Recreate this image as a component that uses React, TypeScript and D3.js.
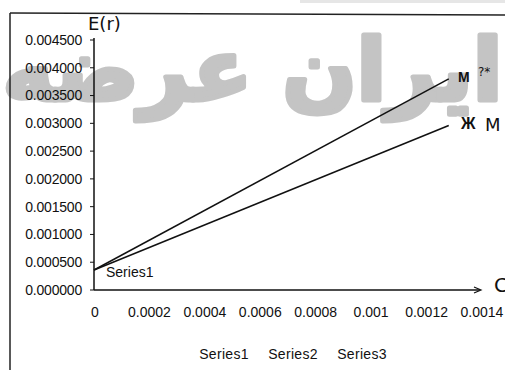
import React from "react";
import * as d3 from "d3";

const xTicks = [0, 0.0002, 0.0004, 0.0006, 0.0008, 0.001, 0.0012, 0.0014];
const xTickLabels = ["0", "0.0002", "0.0004", "0.0006", "0.0008", "0.001", "0.0012", "0.0014"];
const yTicks = [0, 0.0005, 0.001, 0.0015, 0.002, 0.0025, 0.003, 0.0035, 0.004, 0.0045];
const seriesNames = ["Series1", "Series2", "Series3"];
const seriesX = [0, 0.00128];
const series1 = [0.00036, 0.0038];
const series2 = [0.00036, 0.00296];
const series3: number[] = [];

export default function App() {
  const W = 505, H = 370;
  const x = d3.scaleLinear().domain([0, 0.0014]).range([94, 482]);
  const y = d3.scaleLinear().domain([0, 0.0045]).range([290, 40]);
  const line = d3
    .line<[number, number]>()
    .x((d) => x(d[0]))
    .y((d) => y(d[1]));
  const all = [series1, series2, series3].map((vals) =>
    vals.map((v, i) => [seriesX[i], v] as [number, number])
  );
  const font = "'Liberation Sans', Arial, sans-serif";
  const hand = "'DejaVu Sans', sans-serif";
  const legendX = [224, 293, 362];
  return (
    <svg
      width={W}
      height={H}
      style={{ position: "absolute", left: 0, top: 0, background: "#fff" }}
    >
      <rect x={0} y={0} width={W} height={H} fill="#fff" />
      <rect x={300} y={0} width={205} height={3} fill="#e6e6e6" />
      {/* scan watermark */}
      <text
        x={W / 2}
        y={100}
        textAnchor="middle"
        fontFamily="'DejaVu Sans', sans-serif"
        fontWeight="bold"
        fontSize={86}
        fill="#c4c4c4"
        stroke="#c4c4c4"
        strokeWidth={5}
        strokeLinejoin="round"
        textLength={500}
        lengthAdjust="spacingAndGlyphs"
        direction="rtl"
      >
        ایران عرضه
      </text>
      {/* frame */}
      <line x1={10} y1={13} x2={505} y2={15} stroke="#222" strokeWidth={1.5} />
      <line x1={10} y1={13} x2={10} y2={370} stroke="#222" strokeWidth={1.5} />
      {/* axes */}
      <line x1={94} y1={y(0.0045) - 2} x2={94} y2={290} stroke="#111" strokeWidth={1.5} />
      <line x1={94} y1={290} x2={480} y2={290} stroke="#111" strokeWidth={1.5} />
      <path d="M474,287 L481,290 L474,293" fill="none" stroke="#111" strokeWidth={1.2} />
      {yTicks.map((t) => (
        <g key={t}>
          <line x1={90} x2={94} y1={y(t)} y2={y(t)} stroke="#111" />
          <text
            x={82}
            y={y(t)}
            dy="0.35em"
            textAnchor="end"
            fontFamily={font}
            fontSize={14}
            letterSpacing={-0.2}
            fill="#111"
          >
            {t.toFixed(6)}
          </text>
        </g>
      ))}
      {xTicks.map((t, i) => (
        <text
          key={t}
          x={i === 0 ? x(t) + 1 : x(t)}
          y={317}
          textAnchor="middle"
          fontFamily={font}
          fontSize={14}
          fill="#111"
        >
          {xTickLabels[i]}
        </text>
      ))}
      {/* series */}
      {all.map((pts, i) =>
        pts.length ? (
          <path key={i} d={line(pts) || ""} fill="none" stroke="#111" strokeWidth={1.5} />
        ) : null
      )}
      <text x={106} y={277} fontFamily={font} fontSize={14} fill="#111">
        Series1
      </text>
      {/* hand annotations */}
      <text x={88} y={30} fontFamily={hand} fontSize={18} fill="#111">
        E(r)
      </text>
      <text x={458} y={82} fontFamily={font} fontWeight="bold" fontSize={14} fill="#111">
        M
      </text>
      <text x={478} y={76} fontFamily={hand} fontSize={12} fill="#111">
        ?*
      </text>
      <text x={461} y={129} fontFamily={font} fontWeight="bold" fontSize={16} fill="#111">
        Ж
      </text>
      <text x={485} y={131} fontFamily={hand} fontSize={18} fill="#111">
        M
      </text>
      <text x={494} y={292} fontFamily={hand} fontSize={20} fill="#111">
        C
      </text>
      {/* legend */}
      {seriesNames.map((s, i) => (
        <text
          key={s}
          x={legendX[i]}
          y={359}
          textAnchor="middle"
          fontFamily={font}
          fontSize={14}
          letterSpacing={0.3}
          fill="#111"
        >
          {s}
        </text>
      ))}
    </svg>
  );
}
